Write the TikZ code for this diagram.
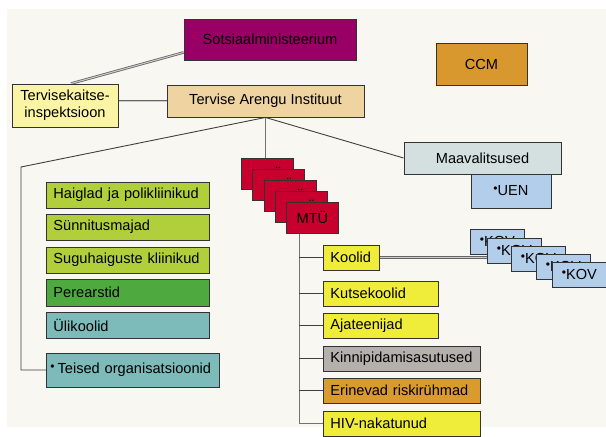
\documentclass[tikz,border=0pt]{standalone}
\usepackage{fontspec}
\setmainfont{Liberation Sans}
\usetikzlibrary{positioning, calc, backgrounds}
\definecolor{bgpaper}{RGB}{248,247,241}
\definecolor{ministry}{RGB}{153,0,102}
\definecolor{taitan}{RGB}{239,211,160}
\definecolor{tkiyellow}{RGB}{250,245,165}
\definecolor{ccmorange}{RGB}{217,152,46}
\definecolor{mtured}{RGB}{200,0,46}
\definecolor{limegreen}{RGB}{177,207,59}
\definecolor{famgreen}{RGB}{78,169,62}
\definecolor{uniteal}{RGB}{125,186,186}
\definecolor{maavagray}{RGB}{212,224,223}
\definecolor{kovblue}{RGB}{179,206,235}
\definecolor{schoolyellow}{RGB}{240,236,58}
\definecolor{prisongray}{RGB}{180,176,172}
\definecolor{riskorange}{RGB}{217,154,46}
\newcommand{\dotmark}{\raisebox{0.22em}{\fontsize{12}{12}\selectfont •}}

\begin{document}
\begin{tikzpicture}[x=1pt, y=-1pt,
    box/.style={draw=black!80, line width=0.9pt, inner sep=0pt, font=\fontsize{14.6}{17}\selectfont, align=center},
    lbox/.style={box, anchor=west, inner xsep=7pt, align=left},
    link/.style={draw=black!75, line width=0.9pt},
    twin/.style={draw=black!60, line width=0.8pt, double=black!20, double distance=1pt}]
    \useasboundingbox (0,0) rectangle (606,437);

    % Top level
    \node[box, fill=ministry, minimum width=172pt, minimum height=41pt] (sotsiaal) at (270,39.5) {Sotsiaalministeerium};
    \node[box, fill=ccmorange, minimum width=91pt, minimum height=42pt] (ccm) at (481.5,64) {CCM};
    \node[box, fill=tkiyellow, minimum width=106pt, minimum height=43pt] (tki) at (65,105.5) {Tervisekaitse-\\inspektsioon};
    \node[box, fill=taitan, minimum width=197pt, minimum height=32pt] (tai) at (265.5,101) {Tervise Arengu Instituut};

    % Maavalitsused
    \node[box, fill=maavagray, minimum width=157pt, minimum height=32pt] (maava) at (482.5,158) {Maavalitsused};
    \node[box, fill=kovblue, minimum width=80pt, minimum height=34pt] (uen) at (511,191) {\dotmark UEN};

    % Left column
    \node[lbox, fill=limegreen, text width=149pt, minimum height=26pt] (haiglad) at (46,195) {Haiglad ja polikliinikud};
    \node[lbox, fill=limegreen, text width=149pt, minimum height=26pt] (synnitus) at (46,227) {Sünnitusmajad};
    \node[lbox, fill=limegreen, text width=149pt, minimum height=26pt] (suguh) at (46,260) {Suguhaiguste kliinikud};
    \node[lbox, fill=famgreen, text width=149pt, minimum height=27pt] (perearst) at (46,292.5) {Perearstid};
    \node[lbox, fill=uniteal, text width=149pt, minimum height=26pt] (ylikool) at (46,325) {Ülikoolid};
    \node[lbox, fill=uniteal, inner xsep=4pt, text width=165pt, minimum height=34pt] (teised) at (46,370) {\dotmark\hspace{3pt}Teised organisatsioonid};

    % MTU stack
    \foreach \i in {0,...,4}
        \node[box, fill=mtured, minimum width=52pt, minimum height=31pt, anchor=north west] (mtu\i) at (241+11.25*\i,158+11*\i) {MTÜ};

    % Right column
    \node[lbox, fill=schoolyellow, text width=42pt, minimum height=25pt] (koolid) at (323,257.5) {Koolid};
    \node[lbox, fill=schoolyellow, text width=101pt, minimum height=25pt] (kutse) at (323,293.5) {Kutsekoolid};
    \node[lbox, fill=schoolyellow, text width=101pt, minimum height=25pt] (ajat) at (323,325.5) {Ajateenijad};
    \node[lbox, fill=prisongray, text width=143pt, minimum height=25pt] (kinni) at (323,358.5) {Kinnipidamisasutused};
    \node[lbox, fill=riskorange, text width=143pt, minimum height=25pt] (riski) at (323,390.5) {Erinevad riskirühmad};
    \node[lbox, fill=schoolyellow, text width=143pt, minimum height=25pt] (hiv) at (323,423.5) {HIV-nakatunud};

    % KOV stack
    \foreach \x/\y [count=\i] in {470/229, 487/238, 511/246, 536/254, 552/262}
        \node[box, fill=kovblue, minimum width=54pt, minimum height=25pt, anchor=north west] (kov\i) at (\x,\y) {\dotmark KOV};

    \begin{scope}[on background layer]
        \fill[bgpaper] (7,9) rectangle (606,427);
        % Connectors
        \draw[twin] ([xshift=6pt]tki.north) -- ([yshift=8pt]sotsiaal.south west);
        \draw[twin] (tki.east |- tai.west) -- (tai.west);
        \coordinate (lcorner) at (21,167);
        \draw[link] (tai.south) -- (lcorner) |- (teised.west);
        \draw[link, draw=black!55] (tai.south) -- (tai.south |- mtu0.north);
        \draw[link] (tai.south) -- (maava.west);
        \coordinate (mtuleg) at ([xshift=-13pt]mtu4.south);
        \draw[link, draw=black!55] (mtuleg) |- (hiv.west);
        \foreach \n in {koolid, kutse, ajat, kinni, riski}
            \draw[link] (mtuleg |- \n.west) -- (\n.west);
        \draw[twin] (koolid.east) -- (koolid.east -| kov2.west);
    \end{scope}
\end{tikzpicture}
\end{document}
